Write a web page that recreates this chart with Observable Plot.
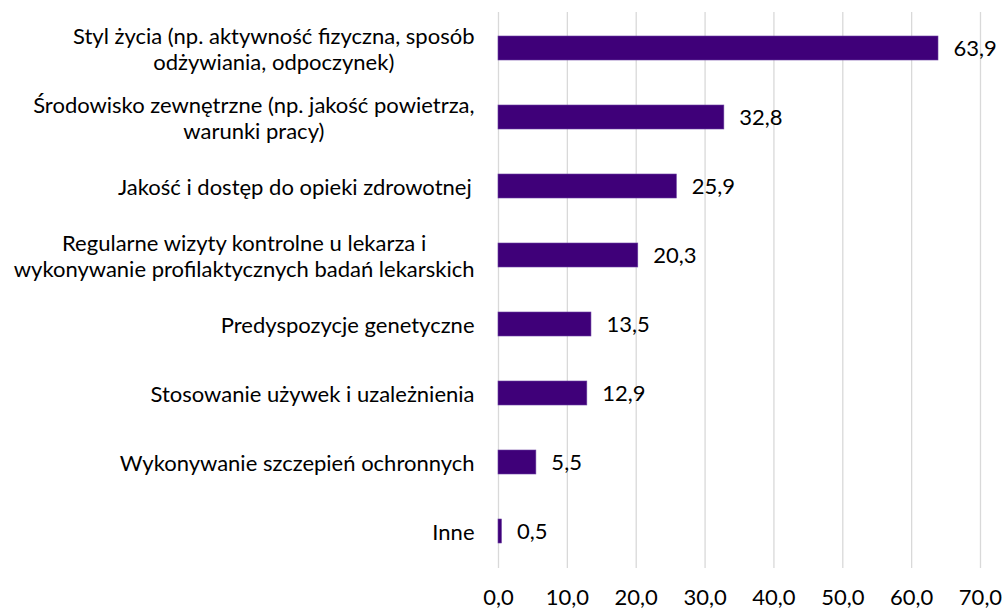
<!DOCTYPE html>
<html>
<head>
<meta charset="utf-8">
<script src="https://cdn.jsdelivr.net/npm/d3@7"></script>
<script src="https://cdn.jsdelivr.net/npm/@observablehq/plot@0.6"></script>
<style>
  html, body { margin: 0; padding: 0; background: #fff; }
  #chart svg { display: block; }
</style>
</head>
<body>
<div id="chart"></div>
<script>
const categories = [
  "Styl życia (np. aktywność fizyczna, sposób\nodżywiania, odpoczynek)",
  "Środowisko zewnętrzne (np. jakość powietrza,\nwarunki pracy)",
  "Jakość i dostęp do opieki zdrowotnej ",
  "Regularne wizyty kontrolne u lekarza i\nwykonywanie profilaktycznych badań lekarskich",
  "Predyspozycje genetyczne",
  "Stosowanie używek i uzależnienia",
  "Wykonywanie szczepień ochronnych",
  "Inne"
];
const values = [63.9, 32.8, 25.9, 20.3, 13.5, 12.9, 5.5, 0.5];
const xTicks = [0, 10, 20, 30, 40, 50, 60, 70];

const FONT = "Lato, 'Open Sans', sans-serif";
const FS = 22;
const data = categories.map((label, i) => ({label, value: values[i]}));
const fmt = v => v.toFixed(1).replace(".", ",");

const ctx = document.createElement("canvas").getContext("2d");
ctx.font = `${FS}px ${FONT}`;
const blockWidth = s => Math.max(...s.split("\n").map(l => ctx.measureText(l.trimEnd()).width));

const labelGap = 24;
const labelMarks = data.map(d => Plot.text([d], {
  x: () => 0, y: "label", text: "label",
  textAnchor: "middle", lineHeight: 26 / FS,
  dx: -(labelGap + blockWidth(d.label) / 2),
  fill: "#000", fontSize: FS
}));

const chart = Plot.plot({
  width: 1007,
  height: 609,
  marginLeft: 498,
  marginRight: 27,
  marginTop: 12,
  marginBottom: 41,
  style: {fontFamily: FONT, fontSize: FS + "px", color: "#000", background: "#fff"},
  x: {domain: [0, 70], axis: null},
  y: {domain: categories, paddingInner: 0.65, paddingOuter: 0.325, axis: null},
  marks: [
    Plot.gridX(xTicks, {stroke: "#d9d9d9", strokeOpacity: 1, strokeWidth: 1.3}),
    Plot.axisX(xTicks, {tickSize: 0, tickPadding: 21, tickFormat: fmt, fontSize: FS, fill: "#000", label: null}),
    Plot.barX(data, {x: "value", y: "label", fill: "#3f0079", stroke: "#6a3fa0", strokeWidth: 0.6}),
    Plot.text(data, {x: "value", y: "label", text: d => fmt(d.value), textAnchor: "start", dx: 15, fill: "#000", fontSize: FS}),
    ...labelMarks
  ]
});
document.getElementById("chart").append(chart);
</script>
</body>
</html>
